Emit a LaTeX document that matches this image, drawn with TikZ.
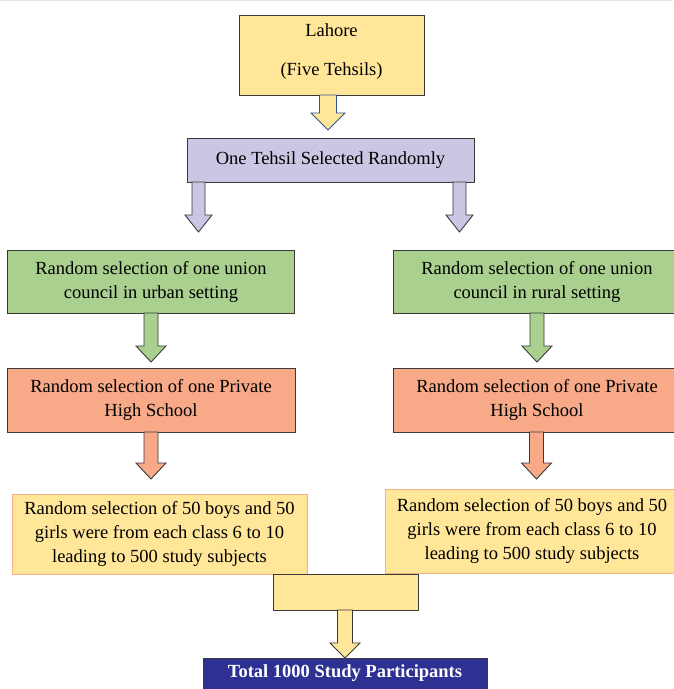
\documentclass[tikz,border=0pt]{standalone}
\usepackage{fontspec}
\setmainfont{Liberation Serif}
\definecolor{cyel}{HTML}{FFE699}
\definecolor{cpur}{HTML}{CAC6E3}
\definecolor{cgrn}{HTML}{A9D08E}
\definecolor{corg}{HTML}{F7A988}
\definecolor{cblu}{HTML}{2E3192}
\definecolor{cyelb}{HTML}{F4B183}
\definecolor{cline}{HTML}{3A3A3A}
\definecolor{carrb}{HTML}{2F5597}
\newcommand\blockarr[8]{%
  \filldraw[fill=#7,draw=#8,line width=0.9pt,line join=miter]
    ({#1-#5},#2) -- ({#1+#5},#2) -- ({#1+#5},#3) -- ({#1+#6},#3) -- (#1,#4)
    -- ({#1-#6},#3) -- ({#1-#5},#3) -- cycle;}
\begin{document}
\begin{tikzpicture}[x=1pt,y=-1pt,
  box/.style={draw=cline,line width=0.9pt,inner sep=0pt,align=center,
    font=\fontsize{18.5}{24}\selectfont},
  ybox/.style={box,fill=cyel,draw=cyelb,line width=0.7pt}]
\useasboundingbox (0,0) rectangle (673,689);
\draw[line width=1pt,draw=black!10] (0,0.5) -- (673,0.5);
% boxes
\node[box,fill=cyel,minimum width=185pt,minimum height=80pt] (lah) at (331.5,55) {};
\node[font=\fontsize{18.5}{24}\selectfont] (lahA) at (331.5,30) {Lahore};
\node[font=\fontsize{18.5}{24}\selectfont] (lahB) at (331.5,71.5) {(Five Tehsils)};
\node[box,fill=cpur,minimum width=287pt,minimum height=44pt] (teh) at (330.5,160) {One Tehsil Selected Randomly};
\node[box,fill=cgrn,minimum width=287pt,minimum height=63pt] (gl) at (151,281.5) {Random selection of one union\\council in urban setting};
\node[box,fill=cgrn,minimum width=288pt,minimum height=63pt] (gr) at (537,281.5) {Random selection of one union\\council in rural setting};
\node[box,fill=corg,minimum width=288pt,minimum height=64pt] (ol) at (151,400) {Random selection of one Private\\High School};
\node[box,fill=corg,minimum width=288pt,minimum height=64pt] (or) at (537,400) {Random selection of one Private\\High School};
\node[ybox,minimum width=295pt,minimum height=80pt] (yl) at (159.5,534) {Random selection of 50 boys and 50\\girls were from each class 6 to 10\\leading to 500 study subjects};
\node[ybox,minimum width=294pt,minimum height=84pt] (yr) at (532,531) {Random selection of 50 boys and 50\\girls were from each class 6 to 10\\leading to 500 study subjects};
\node[box,fill=cyel,minimum width=145pt,minimum height=36pt] (mid) at (345.5,592) {};
\node[box,fill=cblu,minimum width=284pt,minimum height=40pt] (tot) at (345,678) {};
\node[text=white,font=\fontsize{18.5}{22}\selectfont\bfseries] (totT) at (345,673) {Total 1000 Study Participants};
% block arrows
\blockarr{328}{95}{113}{130}{8.5}{17}{cyel}{carrb}
\blockarr{198.5}{182}{215}{232}{6.5}{13.5}{cpur}{cline}
\blockarr{459.5}{182}{215}{232}{6.5}{13.5}{cpur}{cline}
\blockarr{151}{313}{346}{362}{7}{15}{cgrn}{cline}
\blockarr{537}{313}{346}{362}{7}{15}{cgrn}{cline}
\blockarr{151}{432}{463}{479}{7}{15}{corg}{cline}
\blockarr{536.5}{432}{463}{479}{7}{15}{corg}{cline}
\blockarr{345}{610}{643}{658}{7.5}{15}{cyel}{cline}
\end{tikzpicture}
\end{document}
